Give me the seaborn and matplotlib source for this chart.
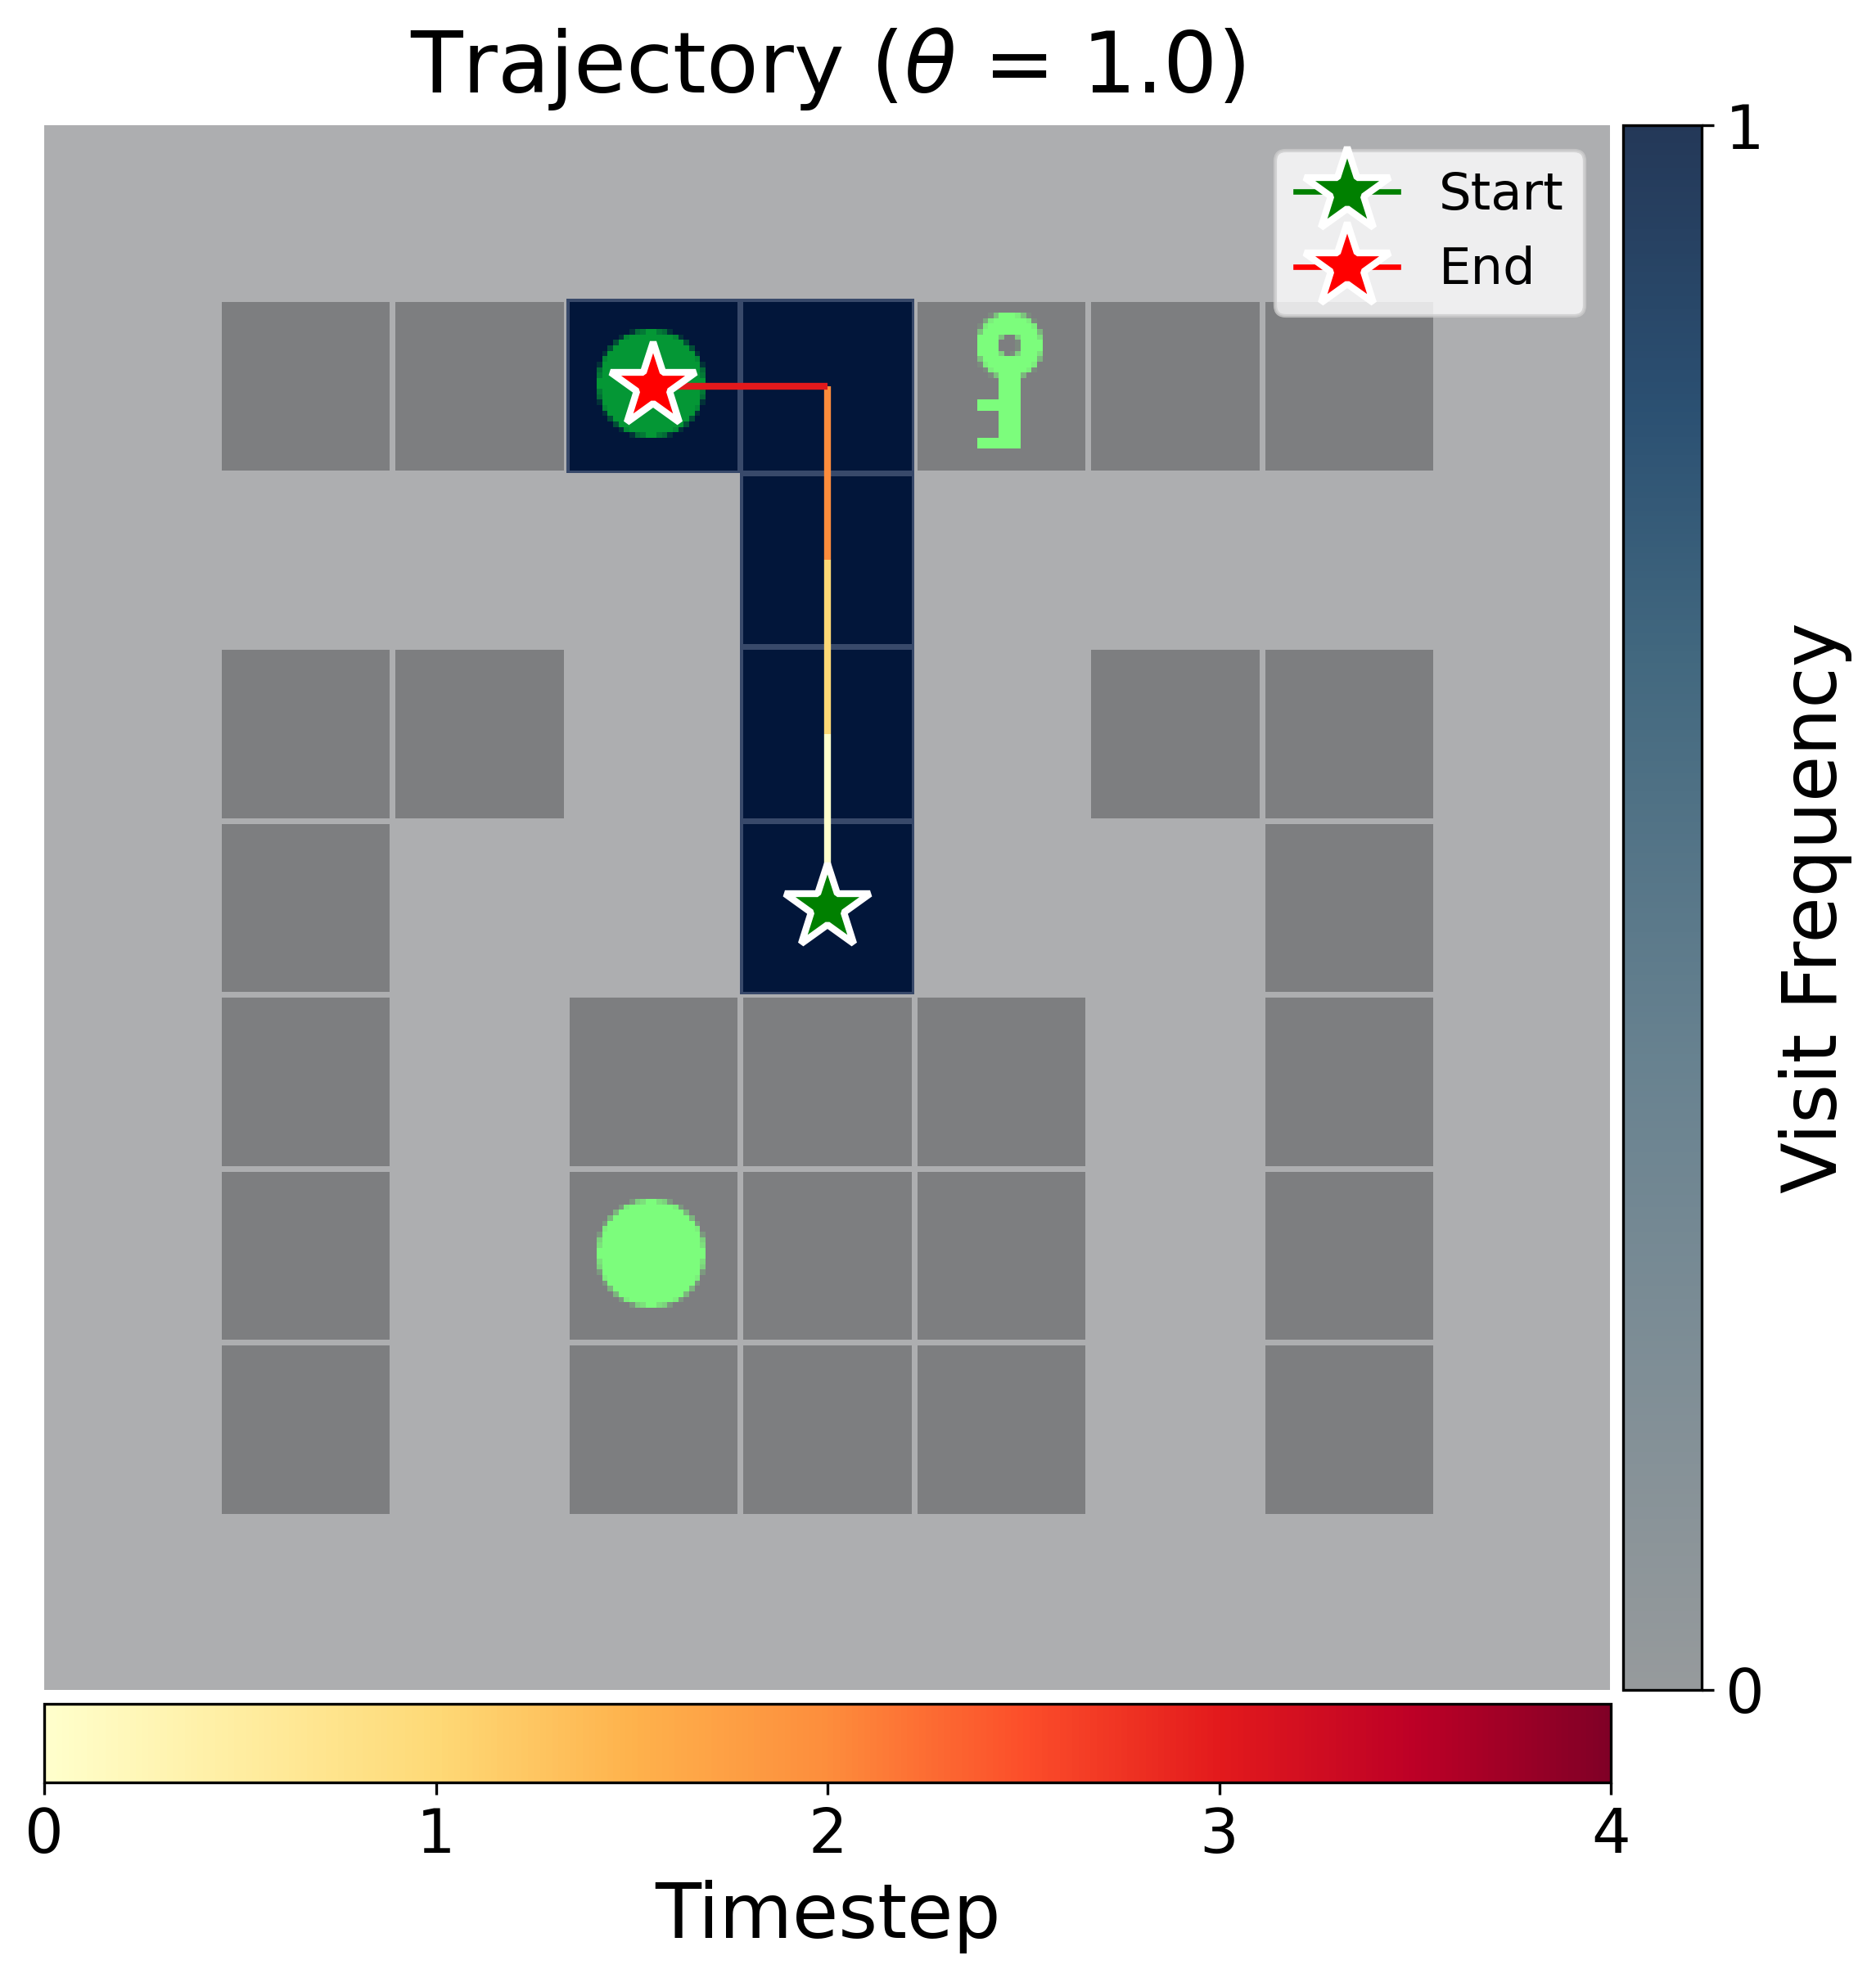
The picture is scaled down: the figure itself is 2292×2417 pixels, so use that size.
import numpy as np
import matplotlib
matplotlib.use('Agg')
import matplotlib.pyplot as plt
import seaborn as sns
from matplotlib.cm import ScalarMappable
from matplotlib.colors import LinearSegmentedColormap, Normalize, to_rgb
from matplotlib.path import Path

# Grid layout: 1 = wall, 2 = visited, 0 = floor
grid_rows = [
    [0, 0, 0, 0, 0, 0, 0, 0, 0],
    [0, 1, 1, 2, 2, 1, 1, 1, 0],
    [0, 0, 0, 0, 2, 0, 0, 0, 0],
    [0, 1, 1, 0, 2, 0, 1, 1, 0],
    [0, 1, 0, 0, 2, 0, 0, 1, 0],
    [0, 1, 0, 1, 1, 1, 0, 1, 0],
    [0, 1, 0, 1, 1, 1, 0, 1, 0],
    [0, 1, 0, 1, 1, 1, 0, 1, 0],
    [0, 0, 0, 0, 0, 0, 0, 0, 0],
]

# Trajectory cells (column, row), one per timestep
traj_x = [4.5, 4.5, 4.5, 4.5, 3.5]
traj_y = [4.5, 3.5, 2.5, 1.5, 1.5]
timesteps = [0, 1, 2, 3, 4]

# Objects on the grid (column, row)
key_cell = (5, 1)
ball_cells = [(3, 1), (3, 6)]
ball_colors = ['#049735', '#7cfd7c']
key_color = '#7cfd7c'

floor_color = '#adaeb0'
wall_color = '#7d7e80'
visited_color = '#02163a'
visited_edge = '#38496a'

visit_stops = [0, 0.4, 0.66, 0.82, 1]
visit_colors = ['#969a9c', '#688290', '#42687f', '#2b5072', '#243858']
visit_ticks = [0, 1]
time_ticks = [0, 1, 2, 3, 4]

W, H = 2292, 2417


def px_axes(fig, left, top, right, bottom):
    return fig.add_axes([left / W, 1 - bottom / H, (right - left) / W, (bottom - top) / H])


def tile_alpha(inside):
    # minigrid style tile: 32 px with 3x supersampling
    c = (np.arange(96) + 0.5) / 96
    xx, yy = np.meshgrid(c, c)
    return inside(xx, yy).reshape(32, 3, 32, 3).mean(axis=(1, 3))


def ball_shape(x, y):
    return (x - 0.5) ** 2 + (y - 0.5) ** 2 <= 0.31 ** 2


def key_shape(x, y):
    stem = (x >= 0.5) & (x <= 0.63) & (y >= 0.31) & (y <= 0.88)
    tooth1 = (x >= 0.38) & (x <= 0.5) & (y >= 0.59) & (y <= 0.66)
    tooth2 = (x >= 0.38) & (x <= 0.5) & (y >= 0.81) & (y <= 0.88)
    ring = (x - 0.56) ** 2 + (y - 0.28) ** 2 <= 0.19 ** 2
    hole = (x - 0.56) ** 2 + (y - 0.28) ** 2 <= 0.064 ** 2
    return (stem | tooth1 | tooth2 | ring) & ~hole


def draw_tile(ax, alpha, color, col, row):
    rgba = np.zeros((32, 32, 4))
    rgba[..., :3] = to_rgb(color)
    rgba[..., 3] = alpha
    # tiles sit about 3 px up and left of the cell centre in the reference
    ax.imshow(rgba, extent=(col - 0.012, col + 0.988, row + 0.988, row - 0.012),
              interpolation='nearest', zorder=3)


grid = np.array(grid_rows)

fig = plt.figure(figsize=(W / 300, H / 300), dpi=300)
ax = px_axes(fig, 54, 153, 1967, 2065)

sns.heatmap(grid, mask=grid != 0, cmap=[floor_color], cbar=False, ax=ax)
sns.heatmap(grid, mask=grid != 1, cmap=[wall_color], cbar=False, linewidths=1.6,
            linecolor=floor_color, ax=ax)
sns.heatmap(grid, mask=grid != 2, cmap=[visited_color], cbar=False, linewidths=1.68,
            linecolor=visited_edge, ax=ax)

# heatmap lines run over masked cells too, keep the visited ones inside their cells
rows, cols = np.nonzero(grid == 2)
visited_path = Path.make_compound_path(*[Path([(c, r), (c + 1, r), (c + 1, r + 1), (c, r + 1), (c, r)])
                                         for r, c in zip(rows, cols)])
ax.collections[-1].set_clip_path(visited_path, ax.transData)

draw_tile(ax, tile_alpha(key_shape), key_color, *key_cell)
for cell, color in zip(ball_cells, ball_colors):
    draw_tile(ax, tile_alpha(ball_shape), color, *cell)

# Trajectory segments coloured by timestep
time_norm = Normalize(min(timesteps), max(timesteps))
time_cmap = plt.get_cmap('YlOrRd')
for i in range(len(traj_x) - 1):
    ax.plot(traj_x[i:i + 2], traj_y[i:i + 2], color=time_cmap(time_norm(timesteps[i])),
            lw=2, solid_capstyle='butt', zorder=4)

ax.plot(traj_x[0], traj_y[0], marker='*', ms=26, lw=1.6, color='green', mec='white', mew=2,
        label='Start', zorder=5)
ax.plot(traj_x[-1], traj_y[-1], marker='*', ms=26, lw=1.6, color='red', mec='white', mew=2,
        label='End', zorder=5)

ax.set_xlim(0, 9)
ax.set_ylim(9, 0)
ax.set_aspect('auto')
ax.set_xticks([])
ax.set_yticks([])
ax.set_xlabel('')
ax.set_ylabel('')
ax.set_title(r'Trajectory ($\theta$ = 1.0)', fontsize=25, pad=9.5)
for s in ax.spines.values():
    s.set_visible(False)
ax.legend(loc='upper right', fontsize=15, handlelength=2)

# Visit frequency colorbar
cax_v = px_axes(fig, 1983, 153, 2079, 2065)
visit_cmap = LinearSegmentedColormap.from_list('visit', list(zip(visit_stops, visit_colors)))
cb_v = fig.colorbar(ScalarMappable(Normalize(0, 1), visit_cmap), cax=cax_v)
cb_v.set_ticks(visit_ticks)
cb_v.ax.tick_params(labelsize=18, length=3.5, width=0.8)
cb_v.set_label('Visit Frequency', fontsize=22)

# Timestep colorbar
cax_t = px_axes(fig, 54, 2082, 1968, 2178)
cb_t = fig.colorbar(ScalarMappable(time_norm, time_cmap), cax=cax_t, orientation='horizontal')
cb_t.set_ticks(time_ticks)
cb_t.ax.tick_params(labelsize=18, length=3.5, width=0.8)
cb_t.set_label('Timestep', fontsize=22)

fig.savefig('out.png', dpi=300)
